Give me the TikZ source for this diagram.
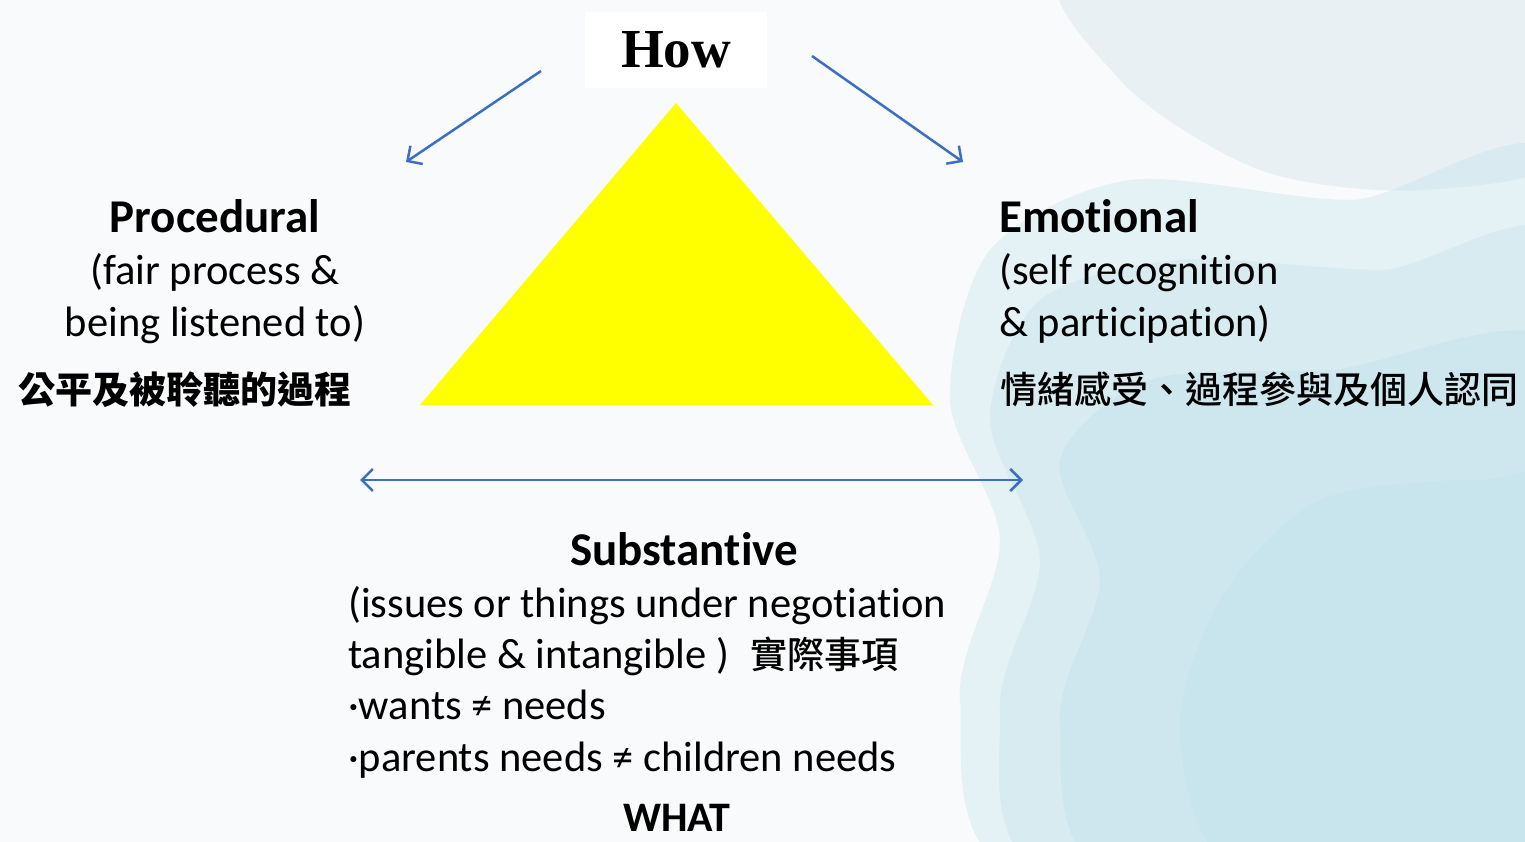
\documentclass[tikz,border=0pt]{standalone}
\usepackage{fontspec}
\setmainfont{Carlito}[Ligatures=NoCommon]
\newfontfamily\cjk{Noto Sans CJK TC}
\newfontfamily\cjkmed{Noto Sans CJK TC Medium}
\newfontfamily\howface{Liberation Serif}
\usetikzlibrary{arrows.meta,positioning}
\definecolor{arrowblue}{RGB}{59,111,193}
\definecolor{paper}{RGB}{248,250,251}
\definecolor{wash}{RGB}{188,223,233}
\definecolor{washgrey}{RGB}{214,230,236}
\definecolor{trianglefill}{RGB}{255,255,0}

\begin{document}
\begin{tikzpicture}
		[x=1pt,y=-1pt,
		body/.style={font=\fontsize{42.5}{50}\selectfont,inner sep=0pt},
		head/.style={font=\fontsize{47}{56}\selectfont\bfseries,inner sep=0pt},
		hanzi/.style={font=\cjkmed\fontsize{37}{44}\selectfont,inner sep=0pt,anchor=base west},
		barb/.tip={Straight Barb[length=11pt,width=22pt]},
		link/.style={draw=arrowblue,line width=2.5pt,-barb},
		wash layer/.style={fill=wash,fill opacity=.32}]
		
		\useasboundingbox (0,0) rectangle (1525,842);
		
		% watercolour background
		\begin{scope}
		\clip (0,0) rectangle (1525,842);
		\fill[paper] (0,0) rectangle (1525,842);
		\fill[washgrey,fill opacity=.45] plot[smooth cycle] coordinates {(1080,-40) (1120,80) (1260,170) (1420,190) (1580,150) (1580,-40)};
		\fill[wash layer] plot[smooth cycle] coordinates {(1030,880) (960,700) (1000,540) (950,400) (990,250) (1130,180) (1350,200) (1580,180) (1580,880)};
		\fill[wash layer] plot[smooth cycle] coordinates {(1060,880) (1000,710) (1040,560) (990,420) (1040,300) (1180,260) (1380,270) (1580,260) (1580,880)};
		\fill[wash layer] plot[smooth cycle] coordinates {(1120,880) (1060,720) (1100,580) (1060,460) (1150,380) (1330,370) (1580,360) (1580,880)};
		\fill[wash layer] plot[smooth cycle] coordinates {(1250,880) (1180,740) (1220,600) (1320,500) (1480,480) (1580,500) (1580,880)};
		\end{scope}
		
		\coordinate (apex) at (676,103);
		\coordinate (baseL) at (420,405);
		\coordinate (baseR) at (933,405);
		\fill[trianglefill] (apex) -- (baseR) -- (baseL) -- cycle;
		
		\node[fill=white,minimum width=182pt,minimum height=76pt,inner sep=0pt,
		font=\howface\bfseries\fontsize{55}{60}\selectfont] (how) at (676,50) {How};
		
		\node[head,anchor=base] (proc) at (215,233) {Procedural};
		\node[body,anchor=base] (proc1) at (215,284) {(fair process \&};
		\node[body,anchor=base] (proc2) at (215,336) {being listened to)};
		\node[hanzi,font=\cjk\bfseries\fontsize{37}{44}\selectfont] (procZh) at (18,403) {公平及被聆聽的過程};
		
		\node[head,anchor=base west] (emo) at (999,233) {Emotional};
		\node[body,anchor=base west] (emo1) at (999,284) {(self recognition};
		\node[body,anchor=base west] (emo2) at (999,336) {\& participation)};
		\node[hanzi] (emoZh) at (1000,403) {情緒感受、過程參與及個人認同};
		
		\node[head,anchor=base] (subst) at (684,565) {Substantive};
		\node[body,anchor=base west] (subst1) at (348,617) {(issues or things under negotiation};
		\node[body,anchor=base west] (subst2) at (348,668) {tangible \& intangible )\hspace{0.5em}{\cjkmed\fontsize{37}{44}\selectfont 實際事項}};
		\node[body,anchor=base west] (subst3) at (348,719) {·wants ≠ needs};
		\node[body,anchor=base west] (subst4) at (348,771) {·parents needs ≠ children needs};
		\node[body,font=\fontsize{42}{50}\selectfont\bfseries,anchor=base] (what) at (677,831) {WHAT};
		
		\coordinate (howL) at (541,71);
		\coordinate (procTip) at (406,162);
		\coordinate (howR) at (812,56);
		\coordinate (emoTip) at (963,162);
		\coordinate (substL) at (360,480);
		\coordinate (substR) at (1023,480);
		
		\draw[link] (howL) to (procTip);
		\draw[link] (howR) to (emoTip);
		\draw[link,barb-barb] (substL) to (substR);
		\end{tikzpicture}
\end{document}
